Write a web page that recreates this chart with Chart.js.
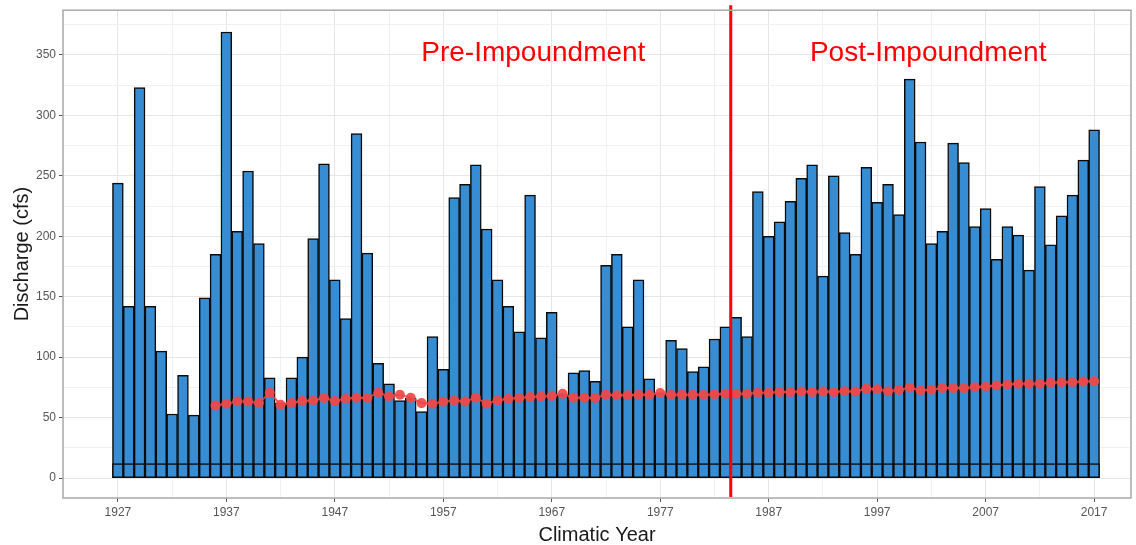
<!DOCTYPE html>
<html>
<head>
<meta charset="utf-8">
<style>
  html, body { margin: 0; padding: 0; background: #ffffff; }
  #wrap { width: 1136px; height: 545px; }
</style>
<script src="https://cdn.jsdelivr.net/npm/chart.js@4.4.1/dist/chart.umd.min.js"></script>
</head>
<body>
<div id="wrap"><canvas id="chart" width="1136" height="545"></canvas></div>
<script>
// Climatic years shown on the x axis
const years = [
  1927,1928,1929,1930,1931,1932,1933,1934,1935,1936,
  1937,1938,1939,1940,1941,1942,1943,1944,1945,1946,
  1947,1948,1949,1950,1951,1952,1953,1954,1955,1956,
  1957,1958,1959,1960,1961,1962,1963,1964,1965,1966,
  1967,1968,1969,1970,1971,1972,1973,1974,1975,1976,
  1977,1978,1979,1980,1981,1982,1983,1984,1985,1986,
  1987,1988,1989,1990,1991,1992,1993,1994,1995,1996,
  1997,1998,1999,2000,2001,2002,2003,2004,2005,2006,
  2007,2008,2009,2010,2011,2012,2013,2014,2015,2016,
  2017
];

// Annual discharge (cfs)
const discharge = [
  244,142,323,142,105, 53, 85, 52,149,185,
  369,204,254,194, 83, 62, 83,100,198,260,
  164,132,285,186, 95, 78, 64, 66, 55,117,
   90,232,243,259,206,164,142,121,234,116,
  137, 69, 87, 89, 80,176,185,125,164, 82,
   70,114,107, 88, 92,115,125,133,117,237,
  200,212,229,248,259,167,250,203,185,257,
  228,243,218,330,278,194,204,277,261,208,
  223,181,208,201,172,241,193,217,234,263,
  288
];

// Low-flow component drawn at the foot of each bar (cfs)
const baseFlow = [
  12,12,12,12,12,12,12,12,12,12,
  12,12,12,12,12,12,12,12,12,12,
  12,12,12,12,12,12,12,12,12,12,
  12,12,12,12,12,12,12,12,12,12,
  12,12,12,12,12,12,12,12,12,12,
  12,12,12,12,12,12,12,12,12,12,
  12,12,12,12,12,12,12,12,12,12,
  12,12,12,12,12,12,12,12,12,12,
  12,12,12,12,12,12,12,12,12,12,
  12
];

// Running mean of discharge (cfs); no value before 1936
const runningMean = [
  null,null,null,null,null,null,null,null,null,60.1,
  61.5,63.4,63.4,62.0,70.6,60.7,62.0,63.7,64.2,66.2,
  63.7,65.6,66.4,66.2,70.6,67.5,68.9,66.4,62.0,61.5,
  63.2,64.2,63.4,66.4,61.5,64.2,65.6,66.2,67.0,67.5,
  67.8,69.7,66.4,66.4,66.2,68.9,68.4,68.4,68.9,68.9,
  70.3,68.9,68.9,68.9,68.9,69.2,69.7,69.7,69.7,70.6,
  70.6,71.1,71.1,71.6,71.1,71.6,71.1,71.9,71.6,73.8,
  73.4,71.9,72.8,74.7,72.5,73.0,74.4,74.4,74.4,75.2,
  75.8,76.6,77.4,78.0,78.0,78.0,78.8,79.3,79.3,79.9,
  80.1
];

// Axis ticks
const xTickYears  = [1927,1932,1937,1942,1947,1952,1957,1962,1967,1972,1977,1982,1987,1992,1997,2002,2007,2012,2017];
const xTickLabels = ['1927','1937','1947','1957','1967','1977','1987','1997','2007','2017'];
const yTickValues = [0,25,50,75,100,125,150,175,200,225,250,275,300,325,350,375];
const yTickLabels = ['0','50','100','150','200','250','300','350'];

// Impoundment boundary and period labels
const impoundmentYear = 1983.5;
const periodLabels = [
  { text: 'Pre-Impoundment',  x: 1965.3, y: 351 },
  { text: 'Post-Impoundment', x: 2001.7, y: 351 }
];

const barPoints   = years.map((yr, i) => ({ x: yr, y: discharge[i] }));
const basePoints  = years.map((yr, i) => ({ x: yr, y: baseFlow[i] }));
const meanPoints  = years.map((yr, i) => ({ x: yr, y: runningMean[i] })).filter(p => p.y !== null);

const labelFont = '"Liberation Sans", Arial, Helvetica, sans-serif';

const isMajorX = v => (v - 1927) % 10 === 0;
const isMajorY = v => v % 50 === 0;

const overlayPlugin = {
  id: 'overlay',
  afterDatasetsDraw(chart) {
    const { ctx, chartArea, scales } = chart;
    // impoundment line
    const lx = scales.x.getPixelForValue(impoundmentYear);
    ctx.save();
    ctx.strokeStyle = '#ff0000';
    ctx.lineWidth = 3;
    ctx.beginPath();
    ctx.moveTo(lx, chartArea.top - 5);
    ctx.lineTo(lx, chartArea.bottom - 1);
    ctx.stroke();
    // period labels
    ctx.fillStyle = '#ff0000';
    ctx.font = '28px ' + labelFont;
    ctx.textAlign = 'center';
    ctx.textBaseline = 'middle';
    periodLabels.forEach(l => {
      ctx.fillText(l.text, scales.x.getPixelForValue(l.x), scales.y.getPixelForValue(l.y));
    });
    ctx.restore();
  },
  afterDraw(chart) {
    const { ctx, chartArea } = chart;
    ctx.save();
    ctx.strokeStyle = '#a8a8a8';
    ctx.lineWidth = 1.5;
    ctx.strokeRect(chartArea.left, chartArea.top, chartArea.right - chartArea.left, chartArea.bottom - chartArea.top);
    ctx.restore();
  }
};

new Chart(document.getElementById('chart'), {
  data: {
    datasets: [
      {
        type: 'line',
        label: 'Running mean',
        data: meanPoints,
        borderColor: 'rgba(238,66,66,0.85)',
        backgroundColor: 'rgba(238,72,72,0.92)',
        borderWidth: 2,
        pointRadius: 5,
        pointBorderWidth: 0,
        pointHoverRadius: 5,
        tension: 0,
        order: 0
      },
      {
        type: 'bar',
        label: 'Base flow',
        data: basePoints,
        backgroundColor: '#378dd3',
        borderColor: '#0a0a0a',
        borderWidth: 1.5,
        borderSkipped: false,
        grouped: false,
        barPercentage: 1.0,
        categoryPercentage: 1.0,
        order: 1
      },
      {
        type: 'bar',
        label: 'Discharge',
        data: barPoints,
        backgroundColor: '#378dd3',
        borderColor: '#0a0a0a',
        borderWidth: 1.5,
        borderSkipped: false,
        grouped: false,
        barPercentage: 1.0,
        categoryPercentage: 1.0,
        order: 2
      }
    ]
  },
  options: {
    responsive: false,
    animation: false,
    events: [],
    layout: { padding: { top: 8, right: 3, left: 0, bottom: 0 } },
    plugins: {
      legend: { display: false },
      tooltip: { enabled: false }
    },
    scales: {
      x: {
        type: 'linear',
        min: 1921.94,
        max: 2020.4,
        offset: false,
        afterFit(scale) { scale.height = 47; },
        afterBuildTicks(scale) { scale.ticks = xTickYears.map(v => ({ value: v })); },
        border: { display: false },
        grid: {
          offset: false,
          color: ctx => (ctx.tick && isMajorX(ctx.tick.value)) ? '#e6e6e6' : '#f1f1f1',
          lineWidth: 1,
          drawTicks: true,
          tickLength: 4,
          tickColor: ctx => (ctx.tick && isMajorX(ctx.tick.value)) ? '#555555' : 'rgba(0,0,0,0)'
        },
        ticks: {
          autoSkip: false,
          maxRotation: 0,
          padding: 3,
          color: '#555555',
          font: { family: labelFont, size: 12 },
          callback(value) {
            const s = String(value);
            return xTickLabels.includes(s) ? s : '';
          }
        },
        title: {
          display: true,
          text: 'Climatic Year',
          color: '#1a1a1a',
          font: { family: labelFont, size: 20, lineHeight: 1 },
          padding: { top: 0, bottom: 0 }
        }
      },
      y: {
        type: 'linear',
        min: -16.5,
        max: 387,
        afterFit(scale) { scale.width = 63; },
        afterBuildTicks(scale) { scale.ticks = yTickValues.map(v => ({ value: v })); },
        border: { display: false },
        grid: {
          offset: false,
          color: ctx => (ctx.tick && isMajorY(ctx.tick.value)) ? '#e6e6e6' : '#f1f1f1',
          lineWidth: 1,
          drawTicks: true,
          tickLength: 4,
          tickColor: ctx => (ctx.tick && isMajorY(ctx.tick.value)) ? '#555555' : 'rgba(0,0,0,0)'
        },
        ticks: {
          autoSkip: false,
          padding: 3,
          color: '#555555',
          font: { family: labelFont, size: 12 },
          callback(value) {
            const s = String(value);
            return yTickLabels.includes(s) ? s : '';
          }
        },
        title: {
          display: true,
          text: 'Discharge (cfs)',
          color: '#1a1a1a',
          font: { family: labelFont, size: 20, lineHeight: 1 },
          padding: { top: 12, bottom: 0 }
        }
      }
    }
  },
  plugins: [overlayPlugin]
});
</script>
</body>
</html>
